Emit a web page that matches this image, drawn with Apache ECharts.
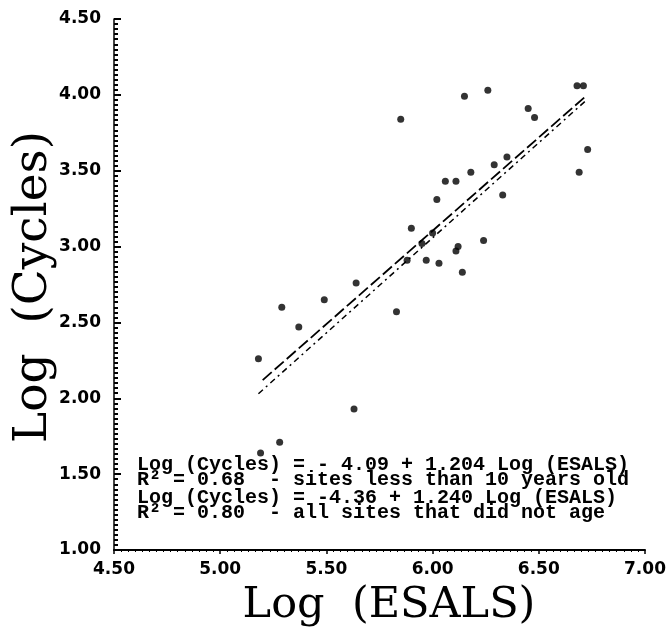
<!DOCTYPE html>
<html>
<head>
<meta charset="utf-8">
<script src="https://cdn.jsdelivr.net/npm/echarts@6/dist/echarts.min.js"></script>
<style>
html,body{margin:0;padding:0;background:#fff;}
#chart{width:669px;height:633px;}
</style>
</head>
<body>
<div id="chart"></div>
<script>
// Data
const logEsals = [5.18, 5.28, 5.19, 5.29, 5.37, 5.49, 5.64, 5.63, 5.83, 5.85, 5.88, 5.90, 5.95, 5.97, 6.00, 6.02, 6.03, 6.06, 6.11, 6.11, 6.12, 6.14, 6.15, 6.18, 6.24, 6.26, 6.29, 6.33, 6.35, 6.45, 6.48, 6.68, 6.71, 6.69, 6.73];
const logCycles = [2.26, 1.71, 1.64, 2.60, 2.47, 2.65, 2.76, 1.93, 2.57, 3.84, 2.91, 3.12, 3.02, 2.91, 3.09, 3.31, 2.89, 3.43, 3.43, 2.97, 3.00, 2.83, 3.99, 3.49, 3.04, 4.03, 3.54, 3.34, 3.59, 3.91, 3.85, 4.06, 4.06, 3.49, 3.64];
// Regression line end points
const fitYoungX = [5.20, 6.72];
const fitYoungY = [2.12, 3.99];
const fitAllX = [5.18, 6.72];
const fitAllY = [2.03, 3.96];
const xTicks = ['4.50', '5.00', '5.50', '6.00', '6.50', '7.00'];
const yTicks = ['1.00', '1.50', '2.00', '2.50', '3.00', '3.50', '4.00', '4.50'];
const noteLines = [
  'Log (Cycles) = - 4.09 + 1.204 Log (ESALS)',
  'R\u00b2 = 0.68  - sites less than 10 years old',
  'Log (Cycles) = -4.36 + 1.240 Log (ESALS)',
  'R\u00b2 = 0.80  - all sites that did not age'
];
const xTitle = 'Log  (ESALS)';
const yTitle = 'Log  (Cycles)';

const zip = (a, b) => a.map((v, i) => [v, b[i]]);
const chart = echarts.init(document.getElementById('chart'), null, {renderer: 'canvas'});
const labelFont = {color: '#000', fontFamily: 'DejaVu Sans', fontWeight: 'bold', fontSize: 17};
const noteY = [465, 480, 498, 513];

chart.setOption({
  animation: false,
  backgroundColor: '#fff',
  grid: {left: 114, top: 19, width: 531, height: 531},
  xAxis: {
    type: 'value', min: 4.5, max: 7, interval: 0.5,
    axisLine: {lineStyle: {color: '#000', width: 2}},
    axisTick: {show: true, length: 4, lineStyle: {color: '#000', width: 1.5}},
    minorTick: {show: true, splitNumber: 15, length: 2, lineStyle: {color: '#000', width: 1}},
    splitLine: {show: false},
    axisLabel: Object.assign({margin: 11, formatter: v => xTicks[Math.round((v - 4.5) / 0.5)]}, labelFont)
  },
  yAxis: {
    type: 'value', min: 1, max: 4.5, interval: 0.5,
    axisLine: {lineStyle: {color: '#000', width: 1.5}},
    axisTick: {show: true, inside: true, length: 7, lineStyle: {color: '#000', width: 2}},
    minorTick: {show: true, splitNumber: 15, length: 4, lineStyle: {color: '#000', width: 2}},
    splitLine: {show: false},
    axisLabel: Object.assign({margin: 13, formatter: v => yTicks[Math.round((v - 1) / 0.5)]}, labelFont)
  },
  series: [
    {
      type: 'scatter', data: zip(logEsals, logCycles),
      symbol: 'circle', symbolSize: 7,
      itemStyle: {color: '#000'}
    },
    {
      type: 'line', data: zip(fitYoungX, fitYoungY), showSymbol: false, silent: true,
      lineStyle: {color: '#000', width: 1.8, type: [12, 4]}
    },
    {
      type: 'line', data: zip(fitAllX, fitAllY), showSymbol: false, silent: true,
      lineStyle: {color: '#000', width: 1.5, type: [6, 4, 2, 4]}
    }
  ],
  graphic: [
    {
      type: 'text', x: 34, y: 287, rotation: Math.PI / 2,
      style: {text: yTitle, fill: '#000', font: '47px "DejaVu Serif"', textAlign: 'center', textVerticalAlign: 'middle'}
    },
    {
      type: 'text', x: 389, y: 606,
      style: {text: xTitle, fill: '#000', font: '43px "DejaVu Serif"', textAlign: 'center', textVerticalAlign: 'middle'}
    }
  ].concat(noteLines.map((t, i) => ({
    type: 'text', x: 137, y: noteY[i],
    style: {text: t, fill: '#000', font: 'bold 20px "Liberation Mono"', textAlign: 'left', textVerticalAlign: 'middle'}
  })))
});
</script>
</body>
</html>
